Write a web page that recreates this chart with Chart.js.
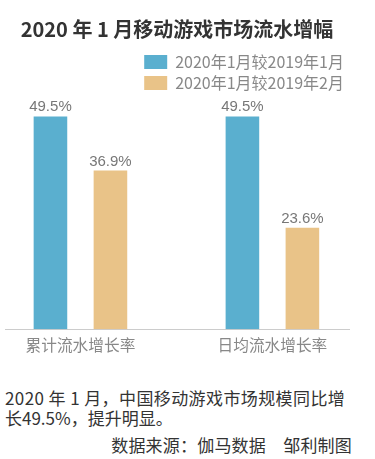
<!DOCTYPE html>
<html>
<head>
<meta charset="utf-8">
<script src="https://cdn.jsdelivr.net/npm/chart.js@4/dist/chart.umd.min.js"></script>
<style>
    html, body { margin: 0; padding: 0; background: #fff; }
    body { width: 375px; height: 459px; position: relative; overflow: hidden; font-family: "Noto Sans CJK SC", "Noto Sans", sans-serif; }
    #wrap { position: absolute; left: 0; top: 0; width: 375px; height: 372px; }
    .note { position: absolute; left: 5px; color: #333; font-size: 17px; line-height: 20px; white-space: nowrap; }
    #line1 { top: 388px; letter-spacing: 0.4px; }
    #line2 { top: 408px; }
    #source { top: 435px; left: auto; right: 23px; letter-spacing: 0.2px; }
</style>
</head>
<body>
<div id="wrap"><canvas id="growthChart"></canvas></div>
<div class="note" id="line1">2020 年 1 月，中国移动游戏市场规模同比增</div>
<div class="note" id="line2">长49.5%，提升明显。</div>
<div class="note" id="source">数据来源：伽马数据　邹利制图</div>

<script>
// 2020年1月移动游戏市场流水增幅

const categories = ['累计流水增长率', '日均流水增长率'];
const seriesNames = ['2020年1月较2019年1月', '2020年1月较2019年2月'];
const vsJan2019 = [49.5, 49.5];
const vsFeb2019 = [36.9, 23.6];
const seriesColors = ['#5aafcf', '#e9c388'];

const toPoints = (values) => values.map((v, i) => ({ x: i, y: v }));

// value labels above each bar
const valueLabels = {
    id: 'valueLabels',
    afterDatasetsDraw(chart) {
        const ctx = chart.ctx;
        ctx.save();
        ctx.font = '15px "Liberation Sans", "Noto Sans", sans-serif';
        ctx.fillStyle = '#777';
        ctx.textAlign = 'center';
        ctx.textBaseline = 'alphabetic';
        chart.data.datasets.forEach((ds, di) => {
            chart.getDatasetMeta(di).data.forEach((bar, i) => {
                ctx.fillText(ds.data[i].y.toFixed(1) + '%', bar.x, bar.y - 5);
            });
        });
        ctx.restore();
    }
};

document.addEventListener('DOMContentLoaded', () => {
    const ctx = document.getElementById('growthChart');
    new Chart(ctx, {
        type: 'bar',
        data: {
            datasets: [
                { label: seriesNames[0], data: toPoints(vsJan2019), backgroundColor: seriesColors[0] },
                { label: seriesNames[1], data: toPoints(vsFeb2019), backgroundColor: seriesColors[1] }
            ]
        },
        options: {
            responsive: true,
            maintainAspectRatio: false,
            animation: false,
            layout: { padding: { left: 5, right: 26, top: 0, bottom: 12 } },
            categoryPercentage: 0.625,
            barPercentage: 0.56,
            plugins: {
                title: {
                    display: true,
                    text: '2020 年 1 月移动游戏市场流水增幅',
                    color: '#333',
                    font: { family: '"Noto Sans CJK SC", sans-serif', size: 20, weight: 'bold' },
                    padding: { top: 17, bottom: 8 }
                },
                legend: {
                    position: 'top',
                    align: 'end',
                    labels: {
                        boxWidth: 23,
                        boxHeight: 14,
                        padding: 5,
                        color: '#888',
                        font: { family: '"Noto Sans CJK SC", sans-serif', size: 16 }
                    }
                },
                tooltip: { enabled: false }
            },
            scales: {
                x: {
                    type: 'linear',
                    offset: false,
                    min: -0.393,
                    max: 1.399,
                    afterBuildTicks: (axis) => { axis.ticks = categories.map((c, i) => ({ value: i })); },
                    grid: { display: false, drawTicks: false, offset: false },
                    border: { display: true, color: '#ccc', width: 1 },
                    ticks: {
                        padding: 6,
                        maxRotation: 0,
                        autoSkip: false,
                        color: '#888',
                        font: { family: '"Noto Sans CJK SC", sans-serif', size: 15.7 },
                        callback: (v) => categories[v] ?? ''
                    }
                },
                y: {
                    display: false,
                    min: 0,
                    max: 53.1
                }
            }
        },
        plugins: [valueLabels]
    });
});
</script>
</body>
</html>
